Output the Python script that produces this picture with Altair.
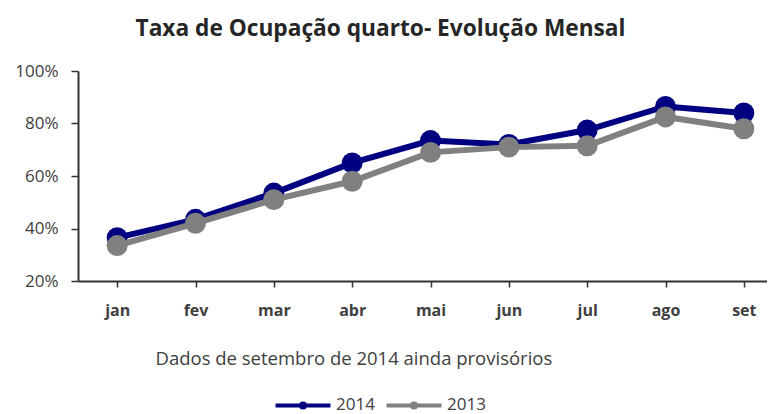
import altair as alt
import pandas as pd

months = ["jan", "fev", "mar", "abr", "mai", "jun", "jul", "ago", "set"]
ocup_2014 = [0.365, 0.435, 0.535, 0.65, 0.735, 0.72, 0.775, 0.865, 0.84]
ocup_2013 = [0.335, 0.42, 0.51, 0.58, 0.69, 0.71, 0.715, 0.825, 0.78]
series = ["2014", "2013"]
colors = ["#000080", "#808080"]

rows = []
for i, m in enumerate(months):
    rows.append({"mes": m, "ano": "2014", "ordem": 0, "taxa": ocup_2014[i]})
for i, m in enumerate(months):
    rows.append({"mes": m, "ano": "2013", "ordem": 1, "taxa": ocup_2013[i]})
df = pd.DataFrame(rows)

FONT = "Open Sans"
TXT = "#404040"

x = alt.X(
    "mes:N",
    sort=months,
    scale=alt.Scale(paddingInner=0, paddingOuter=0, range=[0, 705]),
    axis=alt.Axis(
        title="Dados de setembro de 2014 ainda provisórios",
        titleFont=FONT, titleFontSize=18.5, titleFontWeight="normal", titleColor=TXT,
        titleAnchor="start", titleAlign="left", titleX=77, titleY=83,
        titleBaseline="alphabetic",
        labelAngle=0, labelFont=FONT, labelFontSize=16, labelFontWeight="bold",
        labelColor=TXT, labelPadding=15,
        bandPosition=0, tickSize=6, tickColor="#333333", tickWidth=1.5,
        domainColor="#333333", domainWidth=2, grid=False,
    ),
)
y = alt.Y(
    "taxa:Q",
    scale=alt.Scale(domain=[0.2, 1.0], nice=False, zero=False),
    axis=alt.Axis(
        title=None, values=[0.2, 0.4, 0.6, 0.8, 1.0], format=".0%",
        labelFont=FONT, labelFontSize=17, labelColor=TXT, labelPadding=13,
        tickSize=7, tickColor="#333333", tickWidth=1.5,
        domainColor="#333333", domainWidth=2, grid=False,
    ),
)
color = alt.Color(
    "ano:N",
    scale=alt.Scale(domain=series, range=colors),
    legend=alt.Legend(
        title=None, orient="none", direction="horizontal",
        legendX=209, legendY=318,
        symbolType="M-2,0L2,0M0.15,0A0.15,0.15 0 1,1 -0.15,0A0.15,0.15 0 1,1 0.15,0",
        symbolSize=756, symbolStrokeWidth=4,
        labelFont=FONT, labelFontSize=17, labelColor=TXT,
        labelOffset=17, columnPadding=3,
    ),
)

base = alt.Chart(df).encode(x=x, y=y, color=color, order=alt.Order("ordem:Q"))

lines = base.mark_line(strokeWidth=6)
points = base.mark_circle(size=440, opacity=1)

chart = (
    alt.layer(
        lines.transform_filter("datum.ano == '2014'"),
        points.transform_filter("datum.ano == '2014'"),
        lines.transform_filter("datum.ano == '2013'"),
        points.transform_filter("datum.ano == '2013'"),
    )
    .properties(
        width=689,
        height=210,
        autosize=alt.AutoSizeParams(type="none"),
        padding={"left": 70, "top": 63, "right": 0, "bottom": 145},
        title=alt.TitleParams(
            "Taxa de Ocupação quarto- Evolução Mensal",
            font=FONT, fontSize=22.7, fontWeight="bold", color="#262626",
            anchor="middle", dx=-42, offset=21,
        ),
    )
    .configure_view(stroke=None)
)

chart.save("out.html", embed_options={"renderer": "svg", "actions": False})
